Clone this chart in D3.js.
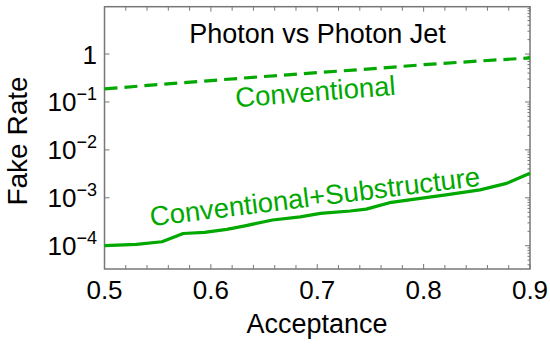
<!DOCTYPE html>
<html><head><meta charset="utf-8">
<script src="https://cdn.jsdelivr.net/npm/d3@7"></script>
<style>body{margin:0;background:#fff}svg{display:block}text{font-family:"Liberation Sans",Arial,sans-serif}</style>
</head><body><svg id="c" width="550" height="345"></svg>
<script>
const conventionalAcc = [0.5,0.55,0.6,0.65,0.7,0.75,0.8,0.85,0.9];
const conventionalRate = [0.187,0.23,0.28,0.34,0.41,0.49,0.6,0.71,0.83];
const substructAcc = [0.5,0.53,0.554,0.574,0.594,0.615,0.632,0.658,0.684,0.703,0.731,0.746,0.768,0.790,0.821,0.853,0.878,0.9];
const substructRate = [1.0e-4,1.07e-4,1.21e-4,1.8e-4,1.9e-4,2.2e-4,2.6e-4,3.44e-4,4.0e-4,4.74e-4,5.3e-4,5.8e-4,7.9e-4,9.3e-4,1.15e-3,1.46e-3,2.0e-3,3.25e-3];
const xTicks = [0.5,0.6,0.7,0.8,0.9];
const yTicks = [1,1e-1,1e-2,1e-3,1e-4];
const yTickExp = [null,"−1","−2","−3","−4"];
const title = "Photon vs Photon Jet";
const labels = ["Conventional","Conventional+Substructure"];

const svg = d3.select("#c");
const L=104.5,R=530,T=6.7,B=269;
const x = d3.scaleLinear().domain([0.5,0.9]).range([L,R]);
const y = d3.scaleLog().domain([Math.pow(10,-4.486),Math.pow(10,0.988)]).range([B,T]);
const green="#00a800", frame="#777";

svg.append("rect").attr("x",L).attr("y",T).attr("width",R-L).attr("height",B-T)
  .attr("fill","none").attr("stroke",frame).attr("stroke-width",1.5);

const xMinor = d3.range(0,21).map(i=>0.5+i*0.02);
const g = svg.append("g").attr("stroke",frame).attr("stroke-width",1);
xMinor.forEach(v=>{
  const len = (Math.abs((v*10)-Math.round(v*10))<1e-6)?5:4;
  g.append("line").attr("x1",x(v)).attr("x2",x(v)).attr("y1",B).attr("y2",B-len);
  g.append("line").attr("x1",x(v)).attr("x2",x(v)).attr("y1",T).attr("y2",T+len);
});
yTicks.concat([10]).forEach(v=>{
  if(y(v)<T-0.5) return;
  g.append("line").attr("x1",L).attr("x2",L+5).attr("y1",y(v)).attr("y2",y(v));
  g.append("line").attr("x1",R).attr("x2",R-5).attr("y1",y(v)).attr("y2",y(v));
});
[-5,-4,-3,-2,-1,0].forEach(e=>{
  for(let k=2;k<=9;k++){
    const v=k*Math.pow(10,e);
    const py=y(v);
    if(py<T||py>B) continue;
    g.append("line").attr("x1",R).attr("x2",R-2.5).attr("y1",py).attr("y2",py);
  }
});

xTicks.forEach(v=>{
  svg.append("text").attr("x",x(v)).attr("y",299).attr("text-anchor","middle")
    .attr("font-size",26).attr("fill","#000").text(d3.format(".1f")(v));
});
yTicks.forEach((v,i)=>{
  const t = svg.append("text").attr("x",97).attr("y",y(v)+9.5).attr("text-anchor","end")
    .attr("font-size",26).attr("fill","#000");
  if(yTickExp[i]===null){ t.text("1"); }
  else {
    t.append("tspan").text("10");
    t.append("tspan").attr("dy",-11).attr("font-size",18).text(yTickExp[i]);
  }
});
svg.append("text").attr("x",317).attr("y",333).attr("text-anchor","middle")
  .attr("font-size",27).attr("fill","#000").text("Acceptance");
svg.append("text").attr("transform","translate(27,141) rotate(-90)").attr("text-anchor","middle")
  .attr("font-size",28).attr("fill","#000").text("Fake Rate");
svg.append("text").attr("x",317.5).attr("y",43).attr("text-anchor","middle")
  .attr("font-size",27).attr("fill","#000").text(title);

const line = d3.line().x(d=>x(d[0])).y(d=>y(d[1]));
svg.append("path").datum(d3.zip(conventionalAcc,conventionalRate)).attr("d",line)
  .attr("fill","none").attr("stroke",green).attr("stroke-width",3.2).attr("stroke-dasharray","13,7");
svg.append("path").datum(d3.zip(substructAcc,substructRate)).attr("d",line)
  .attr("fill","none").attr("stroke",green).attr("stroke-width",3.2).attr("stroke-linejoin","round");

svg.append("text").attr("transform","translate(316,101) rotate(-4.4)").attr("text-anchor","middle")
  .attr("font-size",27.5).attr("fill",green).text(labels[0]);
svg.append("text").attr("transform","translate(316,206) rotate(-7)").attr("text-anchor","middle")
  .attr("font-size",27.5).attr("fill",green).text(labels[1]);
</script></body></html>
